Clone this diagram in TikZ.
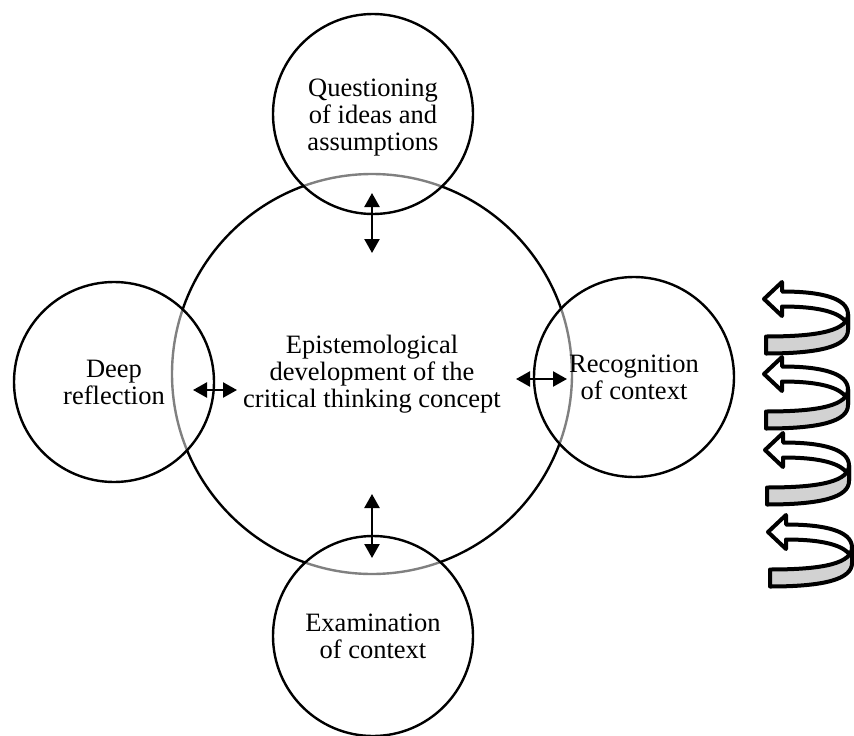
\documentclass[tikz,border=0pt]{standalone}
\usepackage{fontspec}
\setmainfont{Liberation Serif}
\usetikzlibrary{arrows.meta}
\newcommand\helixturn[2]{%
  \begin{scope}[shift={(#1,#2)}]
    \filldraw[coilback] (16,-30.5) .. controls (55,-30.5) and (82,-24) .. (82,-7.5)
      -- (82,7.5) .. controls (82,-9) and (55,-15.5) .. (16,-15.5)
      -- (16,-6) -- (-2,-23) -- (16,-40) -- cycle;
    \filldraw[coilfront] (0,14.5) .. controls (55,14.5) and (82,8) .. (82,-8)
      -- (82,8) .. controls (82,24) and (55,31.5) .. (0,31.5) -- cycle;
  \end{scope}}
\begin{document}
\begin{tikzpicture}[x=1pt,y=-1pt,
  lbl/.style={align=center, font=\fontsize{26.5}{27}\selectfont},
  hub/.style={circle, draw=black, line width=2.4pt, minimum size=400pt, inner sep=0pt, lbl},
  sat/.style={circle, draw=black, line width=2.4pt, minimum size=200pt, inner sep=0pt,
    fill=white, fill opacity=0.5, text opacity=1, lbl},
  link/.style={line width=2.4pt, {Triangle[length=14pt,width=15pt]}-{Triangle[length=14pt,width=15pt]}},
  coilback/.style={draw=black, line width=4pt, line join=round, fill=white},
  coilfront/.style={draw=black, line width=4pt, line join=round, fill=gray!35},
]
\useasboundingbox (0,0) rectangle (854,736);

\node[hub] (hub) at (372,374) {Epistemological\\development of the\\critical thinking concept};

\node[sat] (quest) at (373,114) {\rule{0pt}{24pt}Questioning\\of ideas and\\assumptions};
\node[sat] (deep) at (114,382) {Deep\\reflection};
\node[sat] (recog) at (634,377) {Recognition\\of context};
\node[sat] (exam) at (373,636) {Examination\\of context};

\coordinate (qa) at (372,193); \coordinate (qb) at (372,253);
\coordinate (ea) at (372,494); \coordinate (eb) at (372,558);
\coordinate (da) at (193,390); \coordinate (db) at (237,390);
\coordinate (ra) at (516,379); \coordinate (rb) at (567,379);
\draw[link] (qa) -- (qb);
\draw[link] (ea) -- (eb);
\draw[link] (da) -- (db);
\draw[link] (ra) -- (rb);

\helixturn{766}{322}
\helixturn{766}{397}
\helixturn{767}{473}
\helixturn{770}{555}
\end{tikzpicture}
\end{document}
